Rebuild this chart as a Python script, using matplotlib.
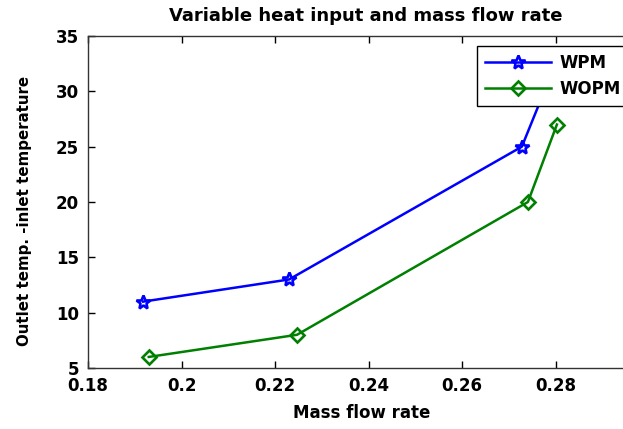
import matplotlib
matplotlib.use("Agg")
import matplotlib.pyplot as plt

# data
mass_flow_wpm = [0.1918, 0.2230, 0.2728, 0.2800]
temp_wpm = [11, 13, 25, 32.5]
mass_flow_wopm = [0.1930, 0.2247, 0.2741, 0.2803]
temp_wopm = [6, 8, 20, 27]
x_ticks = [0.18, 0.20, 0.22, 0.24, 0.26, 0.28]
x_tick_labels = ["0.18", "0.2", "0.22", "0.24", "0.26", "0.28"]
y_ticks = [5, 10, 15, 20, 25, 30, 35]

plt.rcParams['font.family'] = ['DejaVu Sans']
plt.rcParams['font.weight'] = 'bold'

fig = plt.figure(figsize=(6.23, 4.29), dpi=100)
ax = fig.add_axes([88/623, 61/429, 561/623, 332/429])

ax.plot(mass_flow_wpm, temp_wpm, color=(0, 0, 1), linewidth=1.8, marker='*',
        markersize=10, markerfacecolor='none', markeredgewidth=1.9, label='WPM')
ax.plot(mass_flow_wopm, temp_wopm, color=(0, 0.5, 0), linewidth=1.8, marker='D',
        markersize=7, markerfacecolor='none', markeredgewidth=1.9, label='WOPM')

ax.set_xlim(0.18, 0.30)
ax.set_ylim(5, 35)
ax.set_xticks(x_ticks)
ax.set_xticklabels(x_tick_labels)
ax.set_yticks(y_ticks)
ax.tick_params(direction='in', length=5, width=1, top=True, right=True,
               labelsize=12, pad=6.5, colors='black')
for lab in ax.get_xticklabels() + ax.get_yticklabels():
    lab.set_fontweight('bold')
for sp in ax.spines.values():
    sp.set_linewidth(1)
    sp.set_color('#333333')

ax.set_title('Variable heat input and mass flow rate', fontsize=13,
             fontweight='bold', x=0.4955, y=1.045, pad=0)
ax.set_xlabel('Mass flow rate', fontsize=12, fontweight='bold')
ax.xaxis.set_label_coords(0.487, -0.108)
ax.set_ylabel('Outlet temp. -inlet temperature', fontsize=10.8, fontweight='bold')
ax.yaxis.set_label_coords(-0.0998, 0.473)

leg = ax.legend(loc='upper left', bbox_to_anchor=(0.693, 0.970), borderaxespad=0,
                fancybox=False, edgecolor='black', framealpha=1, fontsize=12,
                handlelength=3.95, borderpad=0.5, labelspacing=0.45,
                handletextpad=0.5)
leg.get_frame().set_linewidth(1)
for t in leg.get_texts():
    t.set_fontweight('bold')

fig.savefig('out.png', dpi=100)
